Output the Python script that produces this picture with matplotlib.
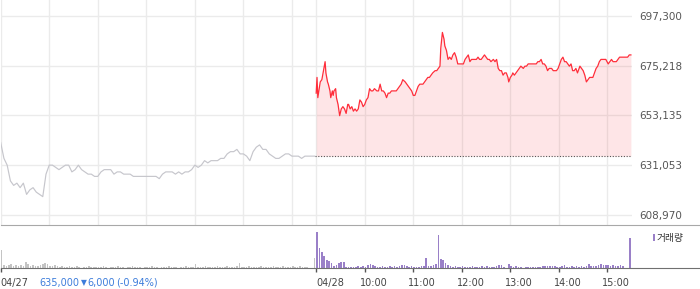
import numpy as np
import matplotlib
matplotlib.use('Agg')
import matplotlib.pyplot as plt
import matplotlib.transforms as mtransforms
from matplotlib.patches import Rectangle

# 04/27 price, one reading every 4 minutes from 09:00 (thousand KRW)
prev_prices_k = [
    641, 634, 631, 624, 622, 623, 621, 623, 618, 620,
    621, 619, 618, 617, 627, 631, 631, 630, 629, 630,
    631, 631, 628, 629, 631, 629, 628, 627, 627, 626,
    626, 628, 629, 629, 629, 627, 628, 628, 627, 627,
    627, 626, 626, 626, 626, 626, 626, 626, 626, 625,
    627, 628, 628, 628, 627, 628, 627, 628, 628, 629,
    631, 630, 631, 633, 632, 633, 633, 633, 634, 634,
    636, 637, 637, 638, 636, 636, 635, 633, 637, 639,
    640, 638, 638, 636, 635, 634, 634, 635, 636, 636,
    635, 635, 635, 634, 635, 635, 635, 635,
]

# 04/28 price: minutes after 09:00 and price (thousand KRW)
today_minutes = [
    0, 1, 2, 5, 7, 9, 11, 12, 14, 15,
    17, 18, 20, 21, 22, 24, 25, 27, 29, 31,
    33, 35, 37, 39, 40, 42, 44, 46, 48, 50,
    52, 54, 56, 58, 60, 62, 64, 66, 68, 70,
    72, 75, 77, 79, 81, 83, 85, 87, 89, 91,
    93, 95, 97, 99, 101, 103, 105, 107, 110, 112,
    114, 116, 118, 120, 122, 124, 126, 128, 130, 132,
    134, 136, 138, 140, 142, 144, 147, 149, 151, 153,
    154, 156, 158, 159, 161, 163, 165, 167, 169, 171,
    173, 175, 177, 179, 182, 184, 186, 188, 190, 192,
    194, 196, 198, 200, 202, 204, 206, 208, 210, 212,
    214, 216, 219, 221, 223, 225, 227, 229, 231, 233,
    235, 237, 238, 240, 242, 243, 245, 247, 249, 251,
    253, 256, 258, 260, 262, 264, 266, 268, 270, 272,
    274, 276, 278, 280, 282, 284, 286, 288, 291, 293,
    295, 297, 299, 301, 303, 305, 307, 309, 311, 313,
    315, 317, 319, 321, 323, 326, 328, 330, 332, 334,
    336, 338, 340, 342, 344, 346, 348, 350, 352, 354,
    356, 358, 361, 363, 365, 367, 369, 371, 373, 375,
    377, 379, 381, 383, 385, 387, 389,
]
today_prices_k = [
    663, 670, 661, 668, 669, 673, 677, 672, 668, 667,
    664, 661, 664, 662, 664, 665, 661, 658, 653, 656,
    657, 656, 654, 658, 658, 656, 657, 655, 656, 655,
    656, 660, 659, 657, 658, 660, 661, 665, 664, 664,
    665, 664, 664, 667, 664, 664, 663, 661, 663, 663,
    664, 664, 664, 664, 665, 666, 667, 669, 668, 667,
    666, 665, 664, 662, 662, 664, 666, 667, 667, 667,
    668, 669, 670, 670, 671, 672, 673, 673, 674, 675,
    683, 690, 687, 684, 682, 678, 679, 678, 680, 681,
    679, 676, 676, 676, 676, 678, 679, 680, 677, 678,
    678, 678, 678, 679, 678, 678, 679, 680, 679, 678,
    678, 677, 678, 677, 678, 674, 673, 673, 671, 672,
    672, 670, 668, 670, 671, 672, 671, 672, 673, 674,
    675, 674, 675, 675, 676, 676, 676, 676, 676, 676,
    677, 677, 678, 676, 676, 675, 673, 674, 674, 673,
    673, 673, 674, 676, 678, 679, 677, 677, 676, 675,
    676, 673, 673, 674, 672, 675, 674, 673, 671, 668,
    669, 670, 670, 670, 672, 674, 675, 677, 678, 678,
    678, 678, 676, 677, 678, 677, 677, 677, 678, 679,
    679, 679, 679, 679, 679, 680, 680,
]
prev_close = 635000

# volume in 3-minute bins (thousand shares)
prev_volume_k = [
    18, 3, 2, 3, 4, 2, 3, 2, 3, 2,
    6, 4, 2, 3, 2, 2, 3, 4, 5, 4,
    2, 2, 3, 2, 1, 2, 1, 1, 2, 1,
    1, 2, 1, 0, 1, 1, 2, 1, 1, 1,
    1, 1, 2, 1, 0, 1, 1, 1, 2, 1,
    1, 0, 1, 1, 2, 1, 1, 1, 0, 1,
    1, 1, 2, 1, 1, 0, 1, 1, 1, 2,
    1, 1, 1, 0, 1, 1, 2, 1, 1, 1,
    4, 1, 1, 1, 2, 1, 1, 1, 1, 2,
    1, 1, 1, 2, 1, 1, 1, 2, 5, 1,
    1, 1, 2, 1, 1, 1, 1, 2, 1, 1,
    1, 1, 2, 1, 1, 1, 2, 1, 1, 1,
    2, 1, 1, 2, 1, 1, 1, 0, 0, 10,
]
today_volume_k = [
    36, 20, 16, 12, 8, 7, 5, 2, 3, 5,
    6, 6, 1, 1, 1, 1, 1, 2, 1, 2,
    1, 3, 4, 3, 2, 1, 1, 2, 1, 1,
    2, 1, 2, 1, 2, 3, 3, 2, 1, 2,
    1, 1, 1, 2, 2, 10, 2, 2, 3, 4,
    33, 9, 8, 5, 3, 2, 1, 2, 1, 1,
    2, 1, 1, 1, 2, 1, 1, 1, 2, 1,
    2, 1, 1, 1, 2, 3, 3, 1, 0, 4,
    2, 1, 2, 1, 1, 0, 1, 1, 1, 1,
    1, 1, 1, 2, 2, 2, 2, 2, 2, 1,
    1, 2, 3, 1, 1, 2, 1, 2, 1, 2,
    1, 2, 4, 2, 2, 2, 3, 4, 3, 3,
    3, 2, 3, 2, 2, 3, 2, 0, 0, 30,
]

price_ticks = [608970, 631053, 653135, 675218, 697300]
date_labels = ['04/27', '04/28']
time_labels = ['10:00', '11:00', '12:00', '13:00', '14:00', '15:00']
change_parts = ['635,000', '\u25bc', '6,000', '(-0.94%)']

W, H = 700, 289
fig = plt.figure(figsize=(W / 100, H / 100), dpi=100)
plt.rcParams['font.family'] = ['DejaVu Sans']

# price panel: 09:00 of 04/27 -> 15:30 of 04/28 as one 780 minute axis
ax = fig.add_axes([0.7 / W, (H - 225.3) / H, 631 / W, 225.3 / H])
won_per_px = (price_ticks[-1] - price_ticks[0]) / (214.7 - 16)
ax.set_xlim(0, 780)
ax.set_ylim(price_ticks[0] - 10.6 * won_per_px, price_ticks[-1] + 16 * won_per_px)

day_starts = [0, 390]
grid_x = [0, 60, 120, 180, 240, 300, 360, 390, 450, 510, 570, 630, 690, 750]
ax.set_xticks(grid_x)
ax.set_yticks(price_ticks)
ax.set_yticklabels(['{:,}'.format(v) for v in price_ticks])
ax.grid(True, color='#ebebeb', lw=1)
ax.set_axisbelow(True)
ax.tick_params(length=0, labelbottom=False, labelleft=False, labelright=True,
               pad=5.3, labelsize=7.5, labelcolor='#555555')
for s in ax.spines.values():
    s.set_visible(False)

prev_x = np.arange(len(prev_prices_k)) * 4
prev_y = np.array(prev_prices_k) * 1000
ax.plot(prev_x, prev_y, color='#c6c6cc', lw=0.85)

tx = 390 + np.array(today_minutes)
ty = np.array(today_prices_k) * 1000
ax.fill_between(tx, ty, prev_close, color='#f83c46', alpha=0.13, lw=0)
ax.plot(tx, ty, color='#ff2d3a', lw=0.9)
ax.hlines(prev_close, 389, tx[-1], colors='#555555', linestyles=(0, (1, 1.5)), lw=0.8)

# volume panel spans the full width
vol = fig.add_axes([0.7 / W, (H - 268.3) / H, (W - 0.7) / W, 43 / H])
vol.set_xlim(0, 780 * (W - 0.7) / 631)
vol.set_ylim(0, 43)
bins = np.arange(130) * 3
vol.bar(bins, prev_volume_k, width=2.0, align='edge', color='#c4c4c4', lw=0)
vol.bar(390 + bins, today_volume_k, width=2.0, align='edge', color='#9a80c8', lw=0)
vol.spines['left'].set_visible(False)
vol.spines['right'].set_visible(False)
vol.spines['top'].set_color('#a8a8a8')
vol.spines['bottom'].set_color('#707070')
vol.set_yticks([])
tick_pos = day_starts + [450, 510, 570, 630, 690, 750]
vol.set_xticks(tick_pos)
vol.tick_params(axis='x', direction='out', length=3, width=1, color='#555555', labelbottom=False)

trans = vol.get_xaxis_transform()
label_y = (268.3 - 282.7) / 43
for pos, lab in zip(day_starts, date_labels):
    vol.text(pos, label_y, lab, transform=trans, ha='left', va='center',
             fontsize=7, color='#444444')
shifted = mtransforms.offset_copy(trans, fig=fig, x=-5, y=0, units='dots')
for pos, lab in zip(tick_pos[2:], time_labels):
    vol.text(pos, label_y, lab, transform=shifted, ha='left', va='center',
             fontsize=7, color='#444444')

for px, part in zip([39.3, 81.0, 87.8, 116.5], change_parts):
    fig.text(px / W, 1 - 282.7 / H, part, ha='left', va='center',
             fontsize=5.5 if part == '\u25bc' else 7, color='#3d7ddb')

# volume legend
fig.patches.append(Rectangle((652.7 / W, 1 - 241.3 / H), 2.6 / W, 7.3 / H,
                             transform=fig.transFigure, color='#9a80c8', lw=0))
fig.text(656.5 / W, 1 - 238 / H, '거래량', ha='left', va='center', fontsize=7,
         color='#333333', family=['Noto Sans CJK KR', 'DejaVu Sans'])

fig.savefig('out.png', dpi=100)
